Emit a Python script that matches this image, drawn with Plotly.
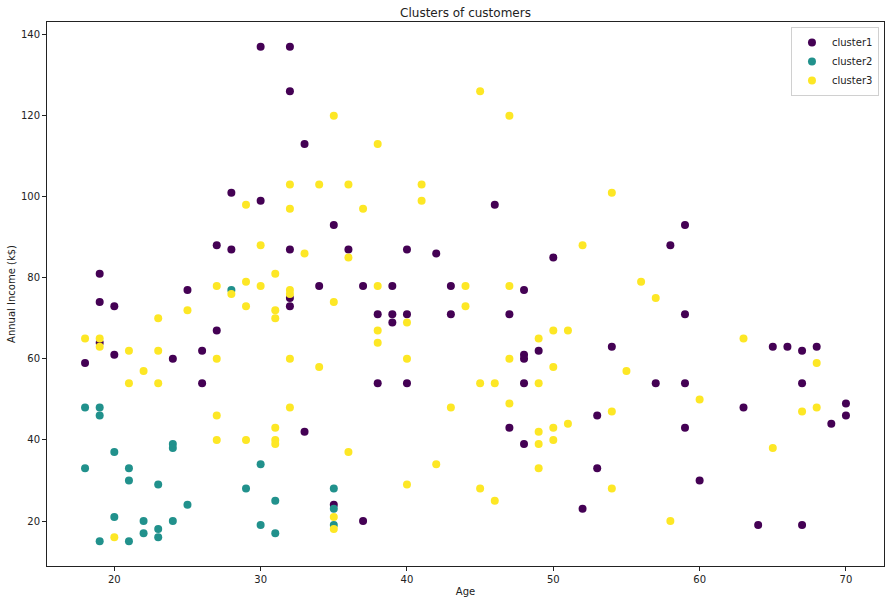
import plotly.graph_objects as go

# Cluster 1 (purple)
c1_age = [30, 32, 32, 33, 28, 30, 46, 35, 59, 27, 58, 28, 32, 36, 40, 42, 50, 19, 34, 37, 39, 43,
          25, 48, 32, 19, 20, 32, 38, 39, 40, 43, 47, 59, 39, 27, 19, 54, 65, 66, 68, 26, 49, 67,
          20, 48, 24, 48, 18, 26, 38, 40, 48, 57, 59, 67, 70, 63, 53, 70, 69, 47, 59, 33, 48, 53,
          60, 35, 52, 37, 64, 67]
c1_income = [137, 137, 126, 113, 101, 99, 98, 93, 93, 88, 88, 87, 87, 87, 87, 86, 85, 81, 78, 78, 78, 78,
             77, 77, 75, 74, 73, 73, 71, 71, 71, 71, 71, 71, 69, 67, 64, 63, 63, 63, 63, 62, 62, 62,
             61, 61, 60, 60, 59, 54, 54, 54, 54, 54, 54, 54, 49, 48, 46, 46, 44, 43, 43, 42, 39, 33,
             30, 24, 23, 20, 19, 19]

# Cluster 2 (teal)
c2_age = [28, 18, 19, 19, 24, 24, 20, 30, 18, 21, 21, 23, 29, 35, 31, 25, 35, 20, 22, 24, 30, 35,
          23, 22, 31, 23, 19, 21]
c2_income = [77, 48, 48, 46, 39, 38, 37, 34, 33, 33, 30, 29, 28, 28, 25, 24, 23, 21, 20, 20, 19, 19,
             18, 17, 17, 16, 15, 15]

# Cluster 3 (yellow)
c3_age = [45, 35, 47, 38, 32, 34, 36, 41, 54, 29, 41, 32, 37, 30, 52, 33, 36, 31, 29, 56, 27, 30,
          38, 44, 47, 28, 32, 32, 57, 35, 25, 31, 23, 31, 29, 44, 40, 38, 50, 51, 18, 19, 49, 63,
          38, 19, 21, 23, 27, 32, 40, 47, 68, 34, 50, 22, 55, 21, 23, 45, 46, 49, 60, 47, 32, 43,
          68, 27, 54, 67, 51, 31, 50, 49, 27, 29, 31, 50, 31, 49, 65, 36, 42, 49, 40, 45, 54, 46,
          35, 58, 35, 20]
c3_income = [126, 120, 120, 113, 103, 103, 103, 103, 101, 98, 99, 97, 97, 88, 88, 86, 85, 81, 79, 79, 78, 78,
             78, 78, 78, 76, 76, 77, 75, 74, 72, 72, 70, 70, 73, 73, 69, 67, 67, 67, 65, 65, 65, 65,
             64, 63, 62, 62, 60, 60, 60, 60, 59, 58, 58, 57, 57, 54, 54, 54, 54, 54, 50, 49, 48, 48,
             48, 46, 47, 47, 44, 43, 43, 42, 40, 40, 40, 40, 39, 39, 38, 37, 34, 33, 29, 28, 28, 25,
             21, 20, 18, 16]

x_ticks = [20, 30, 40, 50, 60, 70]
y_ticks = [20, 40, 60, 80, 100, 120, 140]

FONT = "DejaVu Sans, sans-serif"

fig = go.Figure()
for name, xs, ys, col in [
    ("cluster1", c1_age, c1_income, "#440154"),
    ("cluster2", c2_age, c2_income, "#21918c"),
    ("cluster3", c3_age, c3_income, "#fde725"),
]:
    fig.add_trace(go.Scatter(x=xs, y=ys, mode="markers", name=name,
                             marker=dict(color=col, size=8, line=dict(width=0))))

axis_common = dict(showline=True, linecolor="#222", linewidth=1, mirror=True,
                   ticks="outside", ticklen=4, tickcolor="#222", showgrid=False,
                   zeroline=False, automargin=False,
                   tickfont=dict(family=FONT, size=10, color="#222"))

fig.update_layout(
    width=891, height=604,
    margin=dict(l=47, r=7, t=22, b=38),
    paper_bgcolor="white", plot_bgcolor="white",
    title=dict(text="Clusters of customers", x=0.5, xref="paper", xanchor="center",
               y=1 - 13 / 604, yanchor="middle",
               font=dict(family=FONT, size=12, color="#222")),
    xaxis=dict(range=[15.4, 72.6], tickvals=x_ticks,
               title=dict(text="Age", standoff=3, font=dict(family=FONT, size=10, color="#222")),
               **axis_common),
    yaxis=dict(range=[8.9, 143.1], tickvals=y_ticks,
               title=dict(text="Annual Income (k$)", standoff=3, font=dict(family=FONT, size=10, color="#222")),
               **axis_common),
    legend=dict(x=0.994, y=0.991, xanchor="right", yanchor="top",
                bordercolor="#d0d0d0", borderwidth=1, bgcolor="rgba(255,255,255,0.8)",
                font=dict(family=FONT, size=10, color="#222"), itemwidth=30,
                tracegroupgap=0),
    showlegend=True,
)

fig.write_html("out.html", config={"displayModeBar": False},
               post_script="document.body.style.margin='0';document.body.style.overflow='hidden';")
